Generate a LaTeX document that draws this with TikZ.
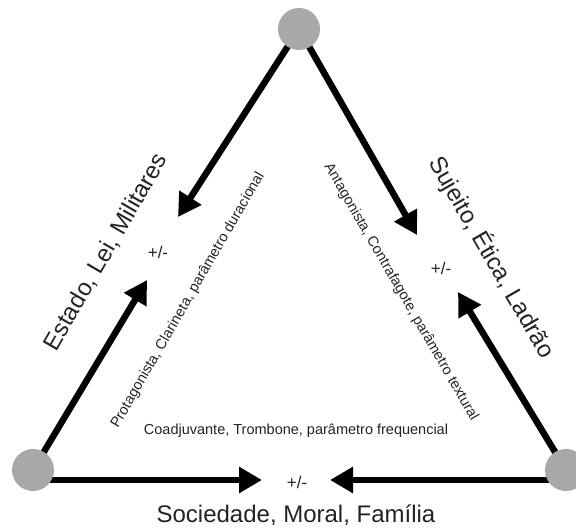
\documentclass[tikz,border=0pt]{standalone}
\usepackage{fontspec}
\setmainfont{Liberation Sans}
\usepackage{tikz}
\usetikzlibrary{arrows.meta}
\usetikzlibrary{backgrounds,positioning}

\definecolor{vertexgray}{RGB}{166,169,167}
\definecolor{textgray}{RGB}{35,35,35}

\begin{document}
\begin{tikzpicture}[x=1pt, y=-1pt,
    vertex/.style={circle, fill=vertexgray, minimum size=42pt, inner sep=0pt},
    force/.style={line width=6.5pt, -{Triangle[length=23pt, width=25pt]}},
    big/.style={font=\fontsize{24}{26}\selectfont, text=textgray},
    small/.style={font=\fontsize{14.5}{16}\selectfont, text=textgray},
    sign/.style={font=\fontsize{17}{18}\selectfont, text=textgray}]
    \useasboundingbox (0,0) rectangle (576,531);

    % vertices
    \node[vertex] (top) at (299,29) {};
    \node[vertex] (left) at (33,470) {};
    \node[vertex] (right) at (566,470) {};

    % balance signs
    \node[sign] (pmL) at (158,252) {+/-};
    \node[sign] (pmR) at (441,268) {+/-};
    \node[sign] (pmB) at (297,482) {+/-};

    % arrow tips
    \coordinate (tipTL) at (178,217);
    \coordinate (tipLU) at (147,280);
    \coordinate (tipTR) at (417,235);
    \coordinate (tipRU) at (458,292);
    \coordinate (tipLB) at (262,480);
    \coordinate (tipRB) at (330,480);

    % side labels
    \node[big, rotate=60] (estado) at (106,252) {Estado, Lei, Militares};
    \node[big, rotate=-60] (sujeito) at (492,257) {Sujeito, Ética, Ladrão};
    \node[big] (sociedade) at (296,515) {Sociedade, Moral, Família};

    \node[small, rotate=60] (prot) at (188,300) {Protagonista, Clarineta, parâmetro duracional};
    \node[small, rotate=-60] (antag) at (401,292) {Antagonista, Contrafagote, parâmetro textural};
    \node[small] (coadj) at (296,431) {Coadjuvante, Trombone, parâmetro frequencial};

    \begin{scope}[on background layer]
    \draw[force] (top.center) -- (tipTL);
    \draw[force] (top.center) -- (tipTR);
    \draw[force] (left.center) -- (tipLU);
    \draw[force] (right.center) -- (tipRU);
    \draw[force] (left |- tipLB) -- (tipLB);
    \draw[force] (right |- tipRB) -- (tipRB);
    \end{scope}
\end{tikzpicture}
\end{document}
